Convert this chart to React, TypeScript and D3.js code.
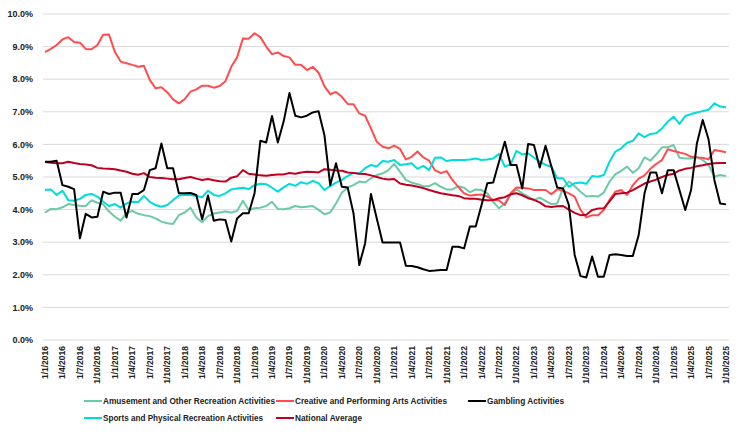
import React from 'react';
import * as d3 from 'd3';

// monthly, Jan 2016 .. Oct 2025 (values in %)
const START = new Date(2016, 0, 1);
const END = new Date(2025, 9, 2);
const months = d3.timeMonth.range(START, END);

const amusement = [
  3.91, 4.02, 4.01, 4.07, 4.17, 4.14, 4.12, 4.11, 4.29, 4.21,
  4.16, 3.94, 3.78, 3.66, 3.89, 3.96, 3.87, 3.83, 3.80, 3.73,
  3.63, 3.58, 3.56, 3.83, 3.91, 4.06, 3.76, 3.61, 3.80, 3.88,
  3.91, 3.94, 3.91, 3.96, 4.27, 3.99, 4.04, 4.06, 4.11, 4.24,
  4.02, 4.01, 4.04, 4.11, 4.07, 4.09, 4.11, 3.99, 3.86, 3.91,
  4.19, 4.52, 4.68, 4.75, 4.86, 4.83, 4.96, 5.06, 5.11, 5.21,
  5.40, 5.16, 4.91, 4.83, 4.78, 4.72, 4.72, 4.81, 4.70, 4.62,
  4.62, 4.72, 4.67, 4.53, 4.62, 4.60, 4.50, 4.24, 4.04, 4.19,
  4.45, 4.62, 4.50, 4.40, 4.29, 4.37, 4.27, 4.17, 4.19, 4.65,
  4.86, 4.72, 4.55, 4.40, 4.42, 4.40, 4.52, 4.86, 5.09, 5.19,
  5.32, 5.13, 5.27, 5.60, 5.50, 5.69, 5.91, 5.91, 5.98, 5.59,
  5.57, 5.57, 5.62, 5.52, 5.37, 5.01, 5.06, 5.03,
];

const creative = [
  8.83, 8.93, 9.05, 9.22, 9.29, 9.14, 9.12, 8.93, 8.92, 9.05,
  9.36, 9.37, 8.84, 8.54, 8.49, 8.44, 8.38, 8.41, 7.98, 7.72,
  7.75, 7.60, 7.38, 7.26, 7.39, 7.62, 7.69, 7.80, 7.80, 7.74,
  7.79, 7.94, 8.38, 8.67, 9.25, 9.24, 9.41, 9.29, 9.00, 8.77,
  8.82, 8.71, 8.67, 8.44, 8.44, 8.28, 8.38, 8.20, 7.79, 7.54,
  7.61, 7.46, 7.24, 7.23, 6.95, 6.88, 6.49, 6.08, 5.93, 5.88,
  5.96, 5.86, 5.54, 5.62, 5.78, 5.60, 5.50, 5.21, 5.12, 5.18,
  4.91, 4.70, 4.50, 4.43, 4.45, 4.46, 4.40, 4.30, 4.28, 4.14,
  4.50, 4.68, 4.67, 4.65, 4.60, 4.60, 4.60, 4.47, 4.62, 4.58,
  4.50, 4.40, 3.99, 3.76, 3.83, 3.83, 3.99, 4.30, 4.55, 4.60,
  4.45, 4.75, 4.95, 5.05, 5.25, 5.40, 5.52, 5.85, 5.80, 5.75,
  5.71, 5.62, 5.60, 5.59, 5.54, 5.83, 5.80, 5.76,
];

const gambling = [
  5.47, 5.47, 5.50, 4.75, 4.70, 4.63, 3.12, 3.87, 3.76, 3.78,
  4.55, 4.48, 4.52, 4.52, 3.76, 4.48, 4.48, 4.60, 5.21, 5.27,
  6.03, 5.27, 5.27, 4.50, 4.50, 4.51, 4.45, 3.70, 4.43, 3.66,
  3.70, 3.68, 3.02, 3.73, 3.89, 3.89, 4.50, 6.11, 6.06, 6.87,
  6.06, 6.70, 7.58, 6.88, 6.83, 6.88, 6.98, 7.02, 6.29, 4.75,
  5.42, 4.70, 4.68, 3.89, 2.30, 2.97, 4.48, 3.73, 2.99, 2.99,
  2.99, 2.99, 2.28, 2.27, 2.23, 2.17, 2.12, 2.13, 2.15, 2.15,
  2.86, 2.86, 2.81, 3.48, 3.48, 4.14, 4.81, 4.83, 5.47, 6.08,
  5.37, 5.37, 4.65, 6.01, 5.98, 5.29, 5.96, 5.32, 4.68, 4.65,
  4.14, 2.61, 1.96, 1.92, 2.56, 1.94, 1.94, 2.61, 2.63, 2.61,
  2.58, 2.58, 3.22, 4.50, 5.14, 5.14, 4.50, 5.21, 5.21, 4.60,
  3.99, 4.60, 6.03, 6.75, 6.16, 4.91, 4.19, 4.16,
];

const sports = [
  4.60, 4.62, 4.45, 4.58, 4.29, 4.27, 4.33, 4.45, 4.48, 4.40,
  4.24, 4.11, 4.17, 4.06, 4.19, 4.24, 4.23, 4.42, 4.24, 4.14,
  4.09, 4.14, 4.29, 4.43, 4.45, 4.45, 4.42, 4.38, 4.58, 4.45,
  4.42, 4.50, 4.62, 4.65, 4.67, 4.63, 4.75, 4.79, 4.78, 4.67,
  4.55, 4.68, 4.79, 4.73, 4.84, 4.79, 4.88, 4.81, 4.60, 4.72,
  4.83, 4.91, 5.03, 5.13, 5.11, 5.27, 5.37, 5.32, 5.49, 5.47,
  5.52, 5.37, 5.39, 5.42, 5.25, 5.34, 5.21, 5.59, 5.60, 5.49,
  5.52, 5.52, 5.52, 5.54, 5.57, 5.52, 5.54, 5.57, 5.71, 5.32,
  5.39, 5.80, 5.69, 5.73, 5.60, 5.47, 5.37, 5.32, 4.96, 4.96,
  4.70, 4.81, 4.83, 4.79, 5.03, 5.01, 5.06, 5.47, 5.78, 5.88,
  6.05, 6.11, 6.34, 6.22, 6.32, 6.34, 6.49, 6.70, 6.85, 6.63,
  6.87, 6.93, 6.98, 7.02, 7.06, 7.26, 7.16, 7.14,
];

const national = [
  5.46, 5.44, 5.42, 5.42, 5.47, 5.43, 5.40, 5.38, 5.36, 5.28,
  5.26, 5.25, 5.24, 5.20, 5.16, 5.10, 5.07, 5.12, 5.00, 4.98,
  4.97, 4.95, 4.93, 4.93, 4.97, 5.00, 4.95, 4.91, 4.94, 4.90,
  4.87, 4.86, 4.98, 5.02, 5.21, 5.10, 5.08, 5.05, 5.04, 5.06,
  5.08, 5.08, 5.12, 5.10, 5.14, 5.16, 5.15, 5.14, 5.24, 5.22,
  5.20, 5.19, 5.14, 5.12, 5.10, 5.09, 5.05, 5.00, 4.95, 4.92,
  4.94, 4.80, 4.76, 4.74, 4.70, 4.66, 4.60, 4.55, 4.50, 4.47,
  4.44, 4.42, 4.35, 4.33, 4.33, 4.30, 4.29, 4.29, 4.35, 4.38,
  4.47, 4.50, 4.44, 4.35, 4.30, 4.22, 4.10, 4.08, 4.10, 4.11,
  4.00, 3.90, 3.83, 3.84, 3.99, 4.03, 4.04, 4.25, 4.48, 4.50,
  4.52, 4.60, 4.70, 4.80, 4.86, 4.92, 5.00, 5.06, 5.10, 5.20,
  5.25, 5.28, 5.33, 5.36, 5.40, 5.42, 5.43, 5.43,
];

const series = [
  { name: 'Amusement and Other Recreation Activities', values: amusement, color: '#6ccaa7' },
  { name: 'Creative and Performing Arts Activities', values: creative, color: '#ff4d4f' },
  { name: 'Gambling Activities', values: gambling, color: '#000000' },
  { name: 'Sports and Physical Recreation Activities', values: sports, color: '#00dcdc' },
  { name: 'National Average', values: national, color: '#c00020' },
];

// draw order (back to front)
const drawOrder = [0, 1, 3, 4, 2];

const yTicks = [0, 1, 2, 3, 4, 5, 6, 7, 8, 9, 10];

const W = 751;
const H = 434;
const FONT = '"Liberation Sans Narrow", "Arial Narrow", "Liberation Sans", sans-serif';

// legend slots: [x, y, text width]
const legendPos = [
  [84, 401, 172],
  [276, 401, 152],
  [468, 401, 77],
  [84, 418, 160],
  [276, 418, 67],
];

export default function App() {
  const x = d3.scaleLinear().domain([0, months.length - 1]).range([45, 726]);
  const y = d3.scaleLinear().domain([0, 10]).range([340, 14]);
  const line = d3
    .line<number>()
    .x((_, i) => x(i))
    .y((d) => y(d));

  const tickIdx = months.map((_, i) => i).filter((i) => i % 3 === 0);
  const fmt = (d: Date) => `1/${d.getMonth() + 1}/${d.getFullYear()}`;

  return (
    <svg
      width={W}
      height={H}
      style={{ position: 'absolute', left: 0, top: 0, background: '#fff' }}
      fontFamily={FONT}
    >
      <rect width={W} height={H} fill="#fff" />
      {yTicks.map((t) => (
        <g key={t}>
          <line x1={43} x2={729} y1={y(t)} y2={y(t)} stroke="#d9d9d9" strokeWidth={1} />
          <text
            x={33}
            y={y(t)}
            dy="0.35em"
            textAnchor="end"
            fontSize={9}
            fontWeight="bold"
            fill="#222"
          >
            {t.toFixed(1)}%
          </text>
        </g>
      ))}
      {tickIdx.map((i) => (
        <text
          key={i}
          transform={`translate(${x(i)},346) rotate(-90)`}
          dy="0.35em"
          textAnchor="end"
          fontSize={8.5}
          fontWeight="bold"
          fill="#222"
        >
          {fmt(months[i])}
        </text>
      ))}
      {drawOrder.map((k) => (
        <path
          key={k}
          d={line(series[k].values) || ''}
          fill="none"
          stroke={series[k].color}
          strokeWidth={2}
          strokeLinejoin="round"
        />
      ))}
      {series.map((s, k) => (
        <g key={s.name} transform={`translate(${legendPos[k][0]},${legendPos[k][1]})`}>
          <line x1={0} x2={18} y1={0} y2={0} stroke={s.color} strokeWidth={2} />
          <text
            x={19}
            y={0}
            dy="0.35em"
            fontSize={8.8}
            fontWeight="bold"
            fill="#222"
            textLength={legendPos[k][2]}
            lengthAdjust="spacingAndGlyphs"
          >
            {s.name}
          </text>
        </g>
      ))}
    </svg>
  );
}
